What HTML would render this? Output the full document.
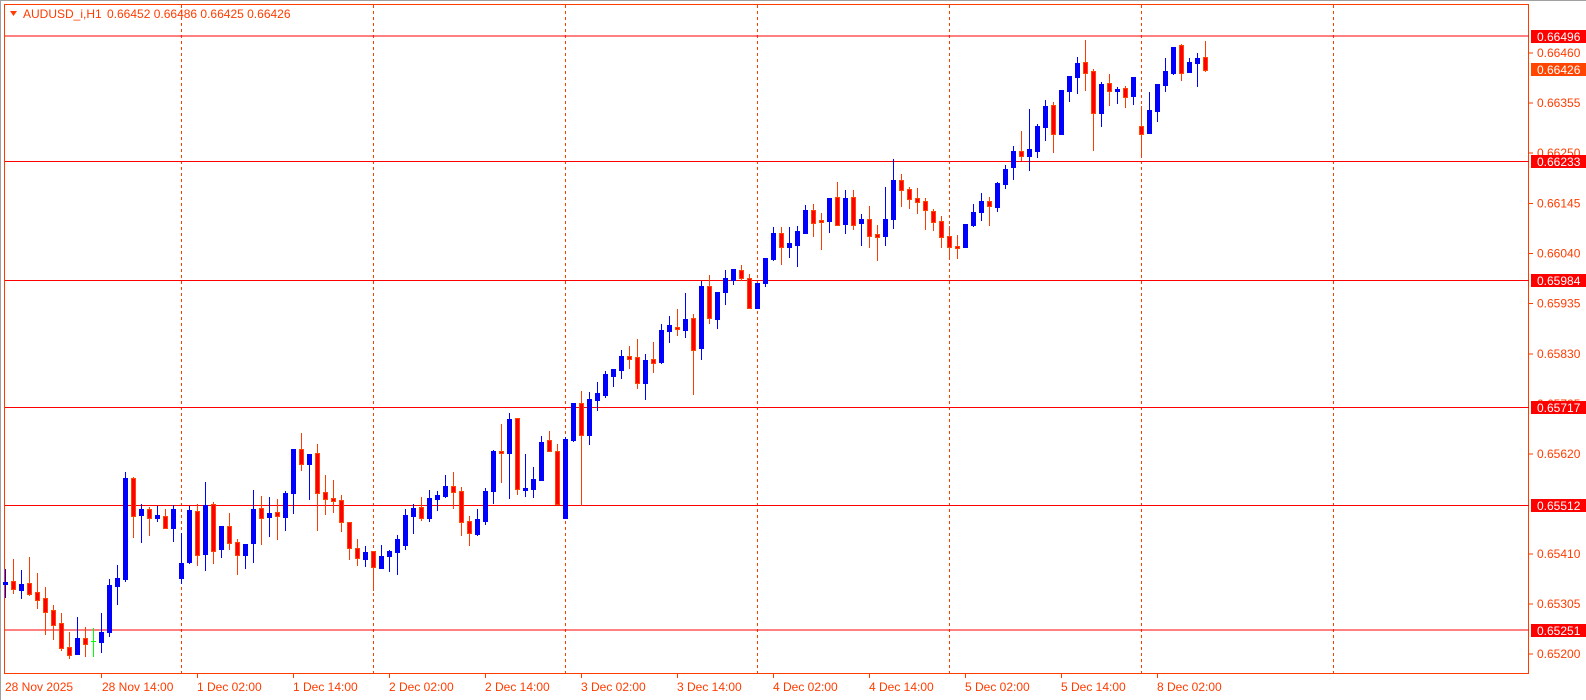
<!DOCTYPE html>
<html><head><meta charset="utf-8">
<style>
html,body{margin:0;padding:0;background:#fff;width:1586px;height:700px;overflow:hidden}
svg{display:block}
text{font-family:"Liberation Sans","DejaVu Sans",sans-serif;font-size:12px}
</style></head>
<body>
<svg id="c" width="1586" height="700" xmlns="http://www.w3.org/2000/svg">
<rect x="0" y="0" width="1586" height="700" fill="#fff"/>
<line x1="0.5" y1="0" x2="0.5" y2="700" stroke="#a0a0a0"/>
<line x1="0" y1="0.5" x2="1586" y2="0.5" stroke="#a0a0a0"/>
<rect x="4.5" y="4.5" width="1524" height="669" fill="none" stroke="#ff3c00"/>
<g stroke="#ff3c00" stroke-dasharray="3,3">
<line x1="181.5" y1="5" x2="181.5" y2="673"/>
<line x1="373.5" y1="5" x2="373.5" y2="673"/>
<line x1="565.5" y1="5" x2="565.5" y2="673"/>
<line x1="757.5" y1="5" x2="757.5" y2="673"/>
<line x1="949.5" y1="5" x2="949.5" y2="673"/>
<line x1="1141.5" y1="5" x2="1141.5" y2="673"/>
<line x1="1333.5" y1="5" x2="1333.5" y2="673"/>
</g>
<g stroke="#ff0000">
<line x1="5" y1="36" x2="1529" y2="36"/>
<line x1="5" y1="161.5" x2="1529" y2="161.5"/>
<line x1="5" y1="280.5" x2="1529" y2="280.5"/>
<line x1="5" y1="407.5" x2="1529" y2="407.5"/>
<line x1="5" y1="505.5" x2="1529" y2="505.5"/>
<line x1="5" y1="630" x2="1529" y2="630"/>
</g>
<g id="candles"></g>
<!-- header -->
<polygon points="10,11 17,11 13.5,16" fill="#ff3c00"/>
<text x="23" y="18" fill="#ff3c00">AUDUSD_i,H1</text>
<text x="107" y="18" fill="#ff3c00">0.66452 0.66486 0.66425 0.66426</text>
<!-- price axis -->
<g stroke="#ff3c00">
<line x1="1529" y1="53" x2="1533" y2="53"/>
<line x1="1529" y1="103" x2="1533" y2="103"/>
<line x1="1529" y1="153" x2="1533" y2="153"/>
<line x1="1529" y1="203.5" x2="1533" y2="203.5"/>
<line x1="1529" y1="253.5" x2="1533" y2="253.5"/>
<line x1="1529" y1="303.5" x2="1533" y2="303.5"/>
<line x1="1529" y1="354" x2="1533" y2="354"/>
<line x1="1529" y1="454" x2="1533" y2="454"/>
<line x1="1529" y1="554" x2="1533" y2="554"/>
<line x1="1529" y1="604" x2="1533" y2="604"/>
<line x1="1529" y1="654" x2="1533" y2="654"/>
</g>
<g fill="#ff3c00">
<text x="1537" y="57">0.66460</text>
<text x="1537" y="107">0.66355</text>
<text x="1537" y="157">0.66250</text>
<text x="1537" y="207.5">0.66145</text>
<text x="1537" y="257.5">0.66040</text>
<text x="1537" y="307.5">0.65935</text>
<text x="1537" y="358">0.65830</text>
<text x="1537" y="408">0.65725</text>
<text x="1537" y="458">0.65620</text>
<text x="1537" y="509">0.65515</text>
<text x="1537" y="558">0.65410</text>
<text x="1537" y="608">0.65305</text>
<text x="1537" y="658">0.65200</text>
</g>
<g>
<rect x="1531" y="30" width="55" height="13" fill="#ff0000"/><text x="1537" y="41" fill="#fff">0.66496</text>
<rect x="1531" y="63" width="55" height="13" fill="#ff4500"/><text x="1537" y="74" fill="#fff">0.66426</text>
<rect x="1531" y="155" width="55" height="13" fill="#ff0000"/><text x="1537" y="166" fill="#fff">0.66233</text>
<rect x="1531" y="274" width="55" height="13" fill="#ff0000"/><text x="1537" y="285" fill="#fff">0.65984</text>
<rect x="1531" y="401" width="55" height="13" fill="#ff0000"/><text x="1537" y="412" fill="#fff">0.65717</text>
<rect x="1531" y="499" width="55" height="13" fill="#ff0000"/><text x="1537" y="510" fill="#fff">0.65512</text>
<rect x="1531" y="624" width="55" height="13" fill="#ff0000"/><text x="1537" y="635" fill="#fff">0.65251</text>
</g>
<!-- time axis -->
<g stroke="#ff3c00">
<line x1="101.5" y1="674" x2="101.5" y2="678"/>
<line x1="197.5" y1="674" x2="197.5" y2="678"/>
<line x1="293.5" y1="674" x2="293.5" y2="678"/>
<line x1="389.5" y1="674" x2="389.5" y2="678"/>
<line x1="485.5" y1="674" x2="485.5" y2="678"/>
<line x1="581.5" y1="674" x2="581.5" y2="678"/>
<line x1="677.5" y1="674" x2="677.5" y2="678"/>
<line x1="773.5" y1="674" x2="773.5" y2="678"/>
<line x1="869.5" y1="674" x2="869.5" y2="678"/>
<line x1="965.5" y1="674" x2="965.5" y2="678"/>
<line x1="1061.5" y1="674" x2="1061.5" y2="678"/>
<line x1="1157.5" y1="674" x2="1157.5" y2="678"/>
</g>
<g fill="#ff3c00">
<text x="5" y="691">28 Nov 2025</text>
<text x="102" y="691">28 Nov 14:00</text>
<text x="197" y="691">1 Dec 02:00</text>
<text x="293" y="691">1 Dec 14:00</text>
<text x="389" y="691">2 Dec 02:00</text>
<text x="485" y="691">2 Dec 14:00</text>
<text x="581" y="691">3 Dec 02:00</text>
<text x="677" y="691">3 Dec 14:00</text>
<text x="773" y="691">4 Dec 02:00</text>
<text x="869" y="691">4 Dec 14:00</text>
<text x="965" y="691">5 Dec 02:00</text>
<text x="1061" y="691">5 Dec 14:00</text>
<text x="1157" y="691">8 Dec 02:00</text>
</g>
</svg>
<script>
var d=[
"b 569 597 582 584","r 559 593 581 589","b 570 598 584 590","r 557 595 583 594","r 573 608 592 600",
"r 587 634 598 612","r 605 639 610 625","r 613 650 623 648","r 632 658 647 655","b 617 654 638 654",
"r 627 656 638 644","g 628 656 641 641","b 613 652 632 642","b 579 636 585 632","b 565 604 578 586",
"b 472 581 478 579","r 477 537 478 516","b 504 542 509 515","r 507 535 509 518","b 506 521 515 518",
"r 509 528 516 528","b 505 541 509 528","b 533 583 563 578","b 506 563 510 562","r 504 565 511 555",
"b 482 570 505 554","r 502 563 504 551","b 526 557 526 549","r 513 549 526 543","r 539 574 542 555",
"b 544 568 544 555","b 490 562 509 543","r 496 544 508 518","b 497 536 513 517","r 499 539 512 516",
"b 491 530 493 517","b 449 513 449 493","r 433 470 449 464","b 454 499 454 464","r 444 530 453 493",
"r 475 514 492 499","r 480 512 498 501","r 495 531 500 522","r 522 559 522 548","r 539 565 548 558",
"b 546 566 552 559","r 551 590 551 567","b 545 568 556 568","b 550 571 551 556","b 535 574 539 552",
"b 509 549 515 545","b 504 533 508 516","r 497 520 507 518","b 490 521 498 518","b 491 510 495 499",
"b 475 497 486 496","r 472 508 486 492","r 487 535 491 522","r 516 545 521 533","b 509 535 519 534",
"b 488 524 491 521","b 450 503 451 491","r 424 482 451 453","b 413 498 419 453","r 418 494 418 489",
"b 454 496 488 490","b 467 497 479 489","b 436 480 442 480","r 431 451 440 451","r 444 504 451 504",
"b 437 518 439 518","b 403 441 403 440","r 391 505 403 435","b 392 444 399 435","b 382 410 393 400",
"b 371 397 374 395","b 369 386 369 376","b 350 378 356 370","r 346 368 356 359","r 339 388 357 383",
"b 354 399 360 383","r 342 372 359 363","b 324 363 330 362","b 316 342 325 331","r 309 335 327 329",
"b 293 337 319 330","r 314 394 318 350","b 281 359 286 348","r 275 323 286 318","b 292 328 292 319",
"b 270 304 278 292","b 269 284 269 280","r 265 280 270 278","r 274 308 278 308","b 283 308 283 308",
"b 258 286 258 283","b 227 260 233 259","r 227 264 233 247","b 227 257 243 247","b 226 266 231 245",
"b 205 233 210 233","r 204 236 210 223","r 213 249 220 222","b 198 232 198 221","r 182 225 197 225",
"b 190 233 198 224","r 190 229 197 225","b 214 245 219 223","r 206 247 219 236","r 225 260 234 237",
"b 187 245 219 236","b 159 228 180 219","r 174 206 180 190","r 187 208 189 199","r 188 213 198 202",
"r 198 229 201 210","r 209 230 211 222","r 216 247 221 237","r 226 259 236 247","r 235 258 246 248",
"b 224 247 224 247","b 204 226 212 225","b 193 220 201 212","r 197 225 201 206","b 182 211 183 207",
"b 165 188 169 184","b 146 179 151 167","r 131 160 151 156","b 109 170 149 156","b 124 157 126 151",
"b 100 140 106 127","r 102 152 105 134","b 90 134 90 134","b 76 101 76 91","b 57 93 63 77",
"r 40 90 62 73","r 69 150 71 113","b 82 126 84 113","r 74 105 83 91","b 87 103 89 91",
"r 86 107 88 97","b 77 104 77 96","r 106 157 126 134","b 92 133 110 133","b 84 121 84 111",
"b 58 91 71 85","b 47 74 47 73","r 44 80 45 73","b 58 72 62 72","b 53 86 58 63","r 41 71 57 70"];
var NS="http://www.w3.org/2000/svg",g=document.getElementById("candles");
function el(t,a){var e=document.createElementNS(NS,t);for(var k in a)e.setAttribute(k,a[k]);g.appendChild(e);return e;}
for(var i=0;i<d.length;i++){
 var p=d[i].split(" "),c=p[0],wt=+p[1],wb=+p[2],bt=+p[3],bb=+p[4];
 var x=Math.round(5.4+8*i);
 var wc=c=="b"?"#0000ff":(c=="g"?"#00ff00":"#ff3c00");
 el("line",{x1:x+0.5,y1:wt,x2:x+0.5,y2:wb+1,stroke:wc});
 if(c=="g"){el("line",{x1:x-2,y1:bt+0.5,x2:x+3,y2:bt+0.5,stroke:wc});continue;}
 var h=Math.max(bb-bt,1);
 if(c=="b") el("rect",{x:x-2,y:bt,width:5,height:h+1,fill:"#0000ff"});
 else el("rect",{x:x-1.5,y:bt+0.5,width:4,height:h,fill:"#ff0000",stroke:"#ff4500"});
}
</script>
</body></html>
